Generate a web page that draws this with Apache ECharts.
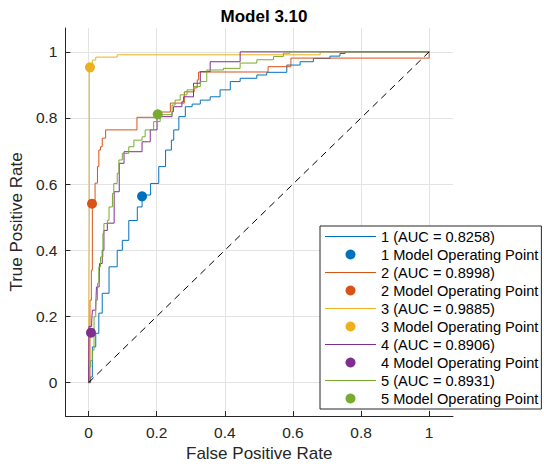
<!DOCTYPE html>
<html><head><meta charset="utf-8">
<script src="https://cdn.jsdelivr.net/npm/echarts@6/dist/echarts.min.js"></script>
<style>html,body{margin:0;padding:0;background:#fff}#c{width:544px;height:468px}</style>
</head><body><div id="c"></div>
<script>
// ---- data ----
const titleText = 'Model 3.10';
const xTicks = [0, 0.2, 0.4, 0.6, 0.8, 1];
const yTicks = [0, 0.2, 0.4, 0.6, 0.8, 1];
const curveNames = ['1 (AUC = 0.8258)', '2 (AUC = 0.8998)', '3 (AUC = 0.9885)', '4 (AUC = 0.8906)', '5 (AUC = 0.8931)'];
const pointNames = ['1 Model Operating Point', '2 Model Operating Point', '3 Model Operating Point', '4 Model Operating Point', '5 Model Operating Point'];
const roc1 = [[0,0],[0.006,0.017],[0.011,0.108],[0.021,0.149],[0.03,0.21],[0.04,0.27],[0.06,0.35],[0.084,0.40],[0.099,0.43],[0.118,0.49],[0.143,0.531],[0.157,0.567],[0.182,0.602],[0.206,0.653],[0.226,0.703],[0.243,0.733],[0.25,0.764],[0.265,0.804],[0.284,0.834],[0.304,0.842],[0.328,0.854],[0.357,0.864],[0.386,0.885],[0.416,0.91],[0.445,0.92],[0.494,0.93],[0.523,0.938],[0.582,0.96],[0.621,0.97],[0.66,0.98],[0.709,0.987],[0.738,0.995],[0.753,1],[1,1]];
const roc2 = [[0,0],[0.004,0.249],[0.008,0.34],[0.011,0.543],[0.019,0.603],[0.026,0.653],[0.03,0.703],[0.035,0.713],[0.04,0.739],[0.05,0.764],[0.132,0.764],[0.142,0.802],[0.201,0.802],[0.21,0.818],[0.24,0.845],[0.281,0.879],[0.31,0.891],[0.319,0.915],[0.323,0.939],[0.523,0.939],[0.527,0.955],[0.591,0.955],[0.594,0.981],[1,0.981],[1,1]];
const roc3 = [[0,0],[0.002,0.5],[0.002,0.94],[0.011,0.975],[0.021,0.984],[0.084,0.988],[0.084,0.991],[0.68,0.991],[0.68,1],[1,1]];
const roc4 = [[0,0],[0.001,0.17],[0.009,0.183],[0.011,0.219],[0.021,0.229],[0.023,0.289],[0.031,0.3],[0.032,0.36],[0.04,0.40],[0.045,0.46],[0.055,0.482],[0.075,0.486],[0.075,0.577],[0.09,0.577],[0.09,0.663],[0.104,0.672],[0.104,0.698],[0.157,0.728],[0.176,0.728],[0.181,0.764],[0.201,0.804],[0.245,0.819],[0.249,0.834],[0.274,0.849],[0.279,0.864],[0.303,0.864],[0.308,0.905],[0.328,0.905],[0.328,0.94],[0.357,0.94],[0.357,0.97],[0.445,0.97],[0.445,1],[1,1]];
const roc5 = [[0,0],[0.003,0.047],[0.006,0.067],[0.011,0.098],[0.016,0.199],[0.021,0.249],[0.026,0.30],[0.03,0.35],[0.035,0.38],[0.042,0.451],[0.045,0.481],[0.055,0.491],[0.06,0.531],[0.07,0.572],[0.074,0.602],[0.084,0.633],[0.089,0.673],[0.099,0.693],[0.118,0.713],[0.133,0.733],[0.157,0.743],[0.166,0.764],[0.191,0.789],[0.21,0.81],[0.245,0.839],[0.254,0.854],[0.269,0.87],[0.289,0.885],[0.308,0.895],[0.328,0.91],[0.347,0.945],[0.396,0.95],[0.445,0.966],[0.494,0.976],[0.543,0.986],[0.572,0.996],[0.591,1],[1,1]];
const opPoints = [[0.157,0.563],[0.01,0.541],[0.004,0.953],[0.007,0.151],[0.203,0.811]];
const diagX = [0, 1];
const diagY = [0, 1];

// ---- styles ----
const colors = ['#0072BD', '#D95319', '#EDB120', '#7E2F8E', '#77AC30'];
const font = 'Liberation Sans, Arial, Helvetica, sans-serif';
const rocs = [roc1, roc2, roc3, roc4, roc5];
const lineIcon = 'path://M0,0H51V1H0Z';

const series = [];
rocs.forEach((r, i) => {
  series.push({
    name: curveNames[i], type: 'line', data: r, step: 'end', symbol: 'none',
    lineStyle: { color: colors[i], width: 1 }, itemStyle: { color: colors[i] },
    z: 3, animation: false
  });
  series.push({
    name: pointNames[i], type: 'scatter', data: [opPoints[i]], symbol: 'circle', symbolSize: 10,
    itemStyle: { color: colors[i], opacity: 1 }, z: 5, animation: false
  });
});
series.push({
  name: 'diag', type: 'line', data: diagX.map((x, k) => [x, diagY[k]]), symbol: 'none',
  lineStyle: { color: '#000', width: 1, type: [7, 5] }, z: 4, animation: false
});

const legendData = [];
curveNames.forEach((n, i) => {
  legendData.push({ name: n, icon: lineIcon, itemStyle: { color: colors[i] } });
  legendData.push({ name: pointNames[i], icon: 'circle', itemStyle: { color: colors[i], opacity: 1 } });
});

const chart = echarts.init(document.getElementById('c'), null, { renderer: 'svg' });
chart.setOption({
  animation: false,
  backgroundColor: '#fff',
  title: { text: titleText, left: 259, textAlign: 'center', top: 3,
    textStyle: { fontFamily: font, fontSize: 17, fontWeight: 'bold', color: '#000' } },
  grid: { left: 65, right: 91, top: 28, bottom: 52, containLabel: false },
  xAxis: {
    type: 'value', min: -0.068, max: 1.07,
    name: 'False Positive Rate', nameLocation: 'middle', nameGap: 29,
    nameTextStyle: { fontFamily: font, fontSize: 17, color: '#262626' },
    axisLine: { show: true, onZero: false, lineStyle: { color: '#262626', width: 1 } },
    axisTick: { show: true, inside: true, length: 5, customValues: xTicks, lineStyle: { color: '#262626' } },
    axisLabel: { customValues: xTicks, margin: 8, fontFamily: font, fontSize: 15.5, color: '#262626',
      formatter: v => String(v) },
    splitLine: { show: true, lineStyle: { color: '#e3e3e3', width: 1 } }
  },
  yAxis: {
    type: 'value', min: -0.101, max: 1.072,
    name: 'True Positive Rate', nameLocation: 'middle', nameGap: 34,
    nameTextStyle: { fontFamily: font, fontSize: 17, color: '#262626' },
    axisLine: { show: true, onZero: false, lineStyle: { color: '#262626', width: 1 } },
    axisTick: { show: true, inside: true, length: 5, customValues: yTicks, lineStyle: { color: '#262626' } },
    axisLabel: { customValues: yTicks, margin: 8, fontFamily: font, fontSize: 15.5, color: '#262626',
      formatter: v => String(v) },
    splitLine: { show: true, lineStyle: { color: '#e3e3e3', width: 1 } }
  },
  legend: {
    orient: 'vertical', left: 320, top: 226,
    data: legendData,
    itemWidth: 51, itemHeight: 10, itemGap: 3, symbolKeepAspect: true,
    padding: [3, 3, 3, 5],
    backgroundColor: '#fff', borderColor: '#262626', borderWidth: 1,
    textStyle: { fontFamily: font, fontSize: 14.6, color: '#000', lineHeight: 15 },
    selectedMode: false
  },
  series: series
});
</script></body></html>
